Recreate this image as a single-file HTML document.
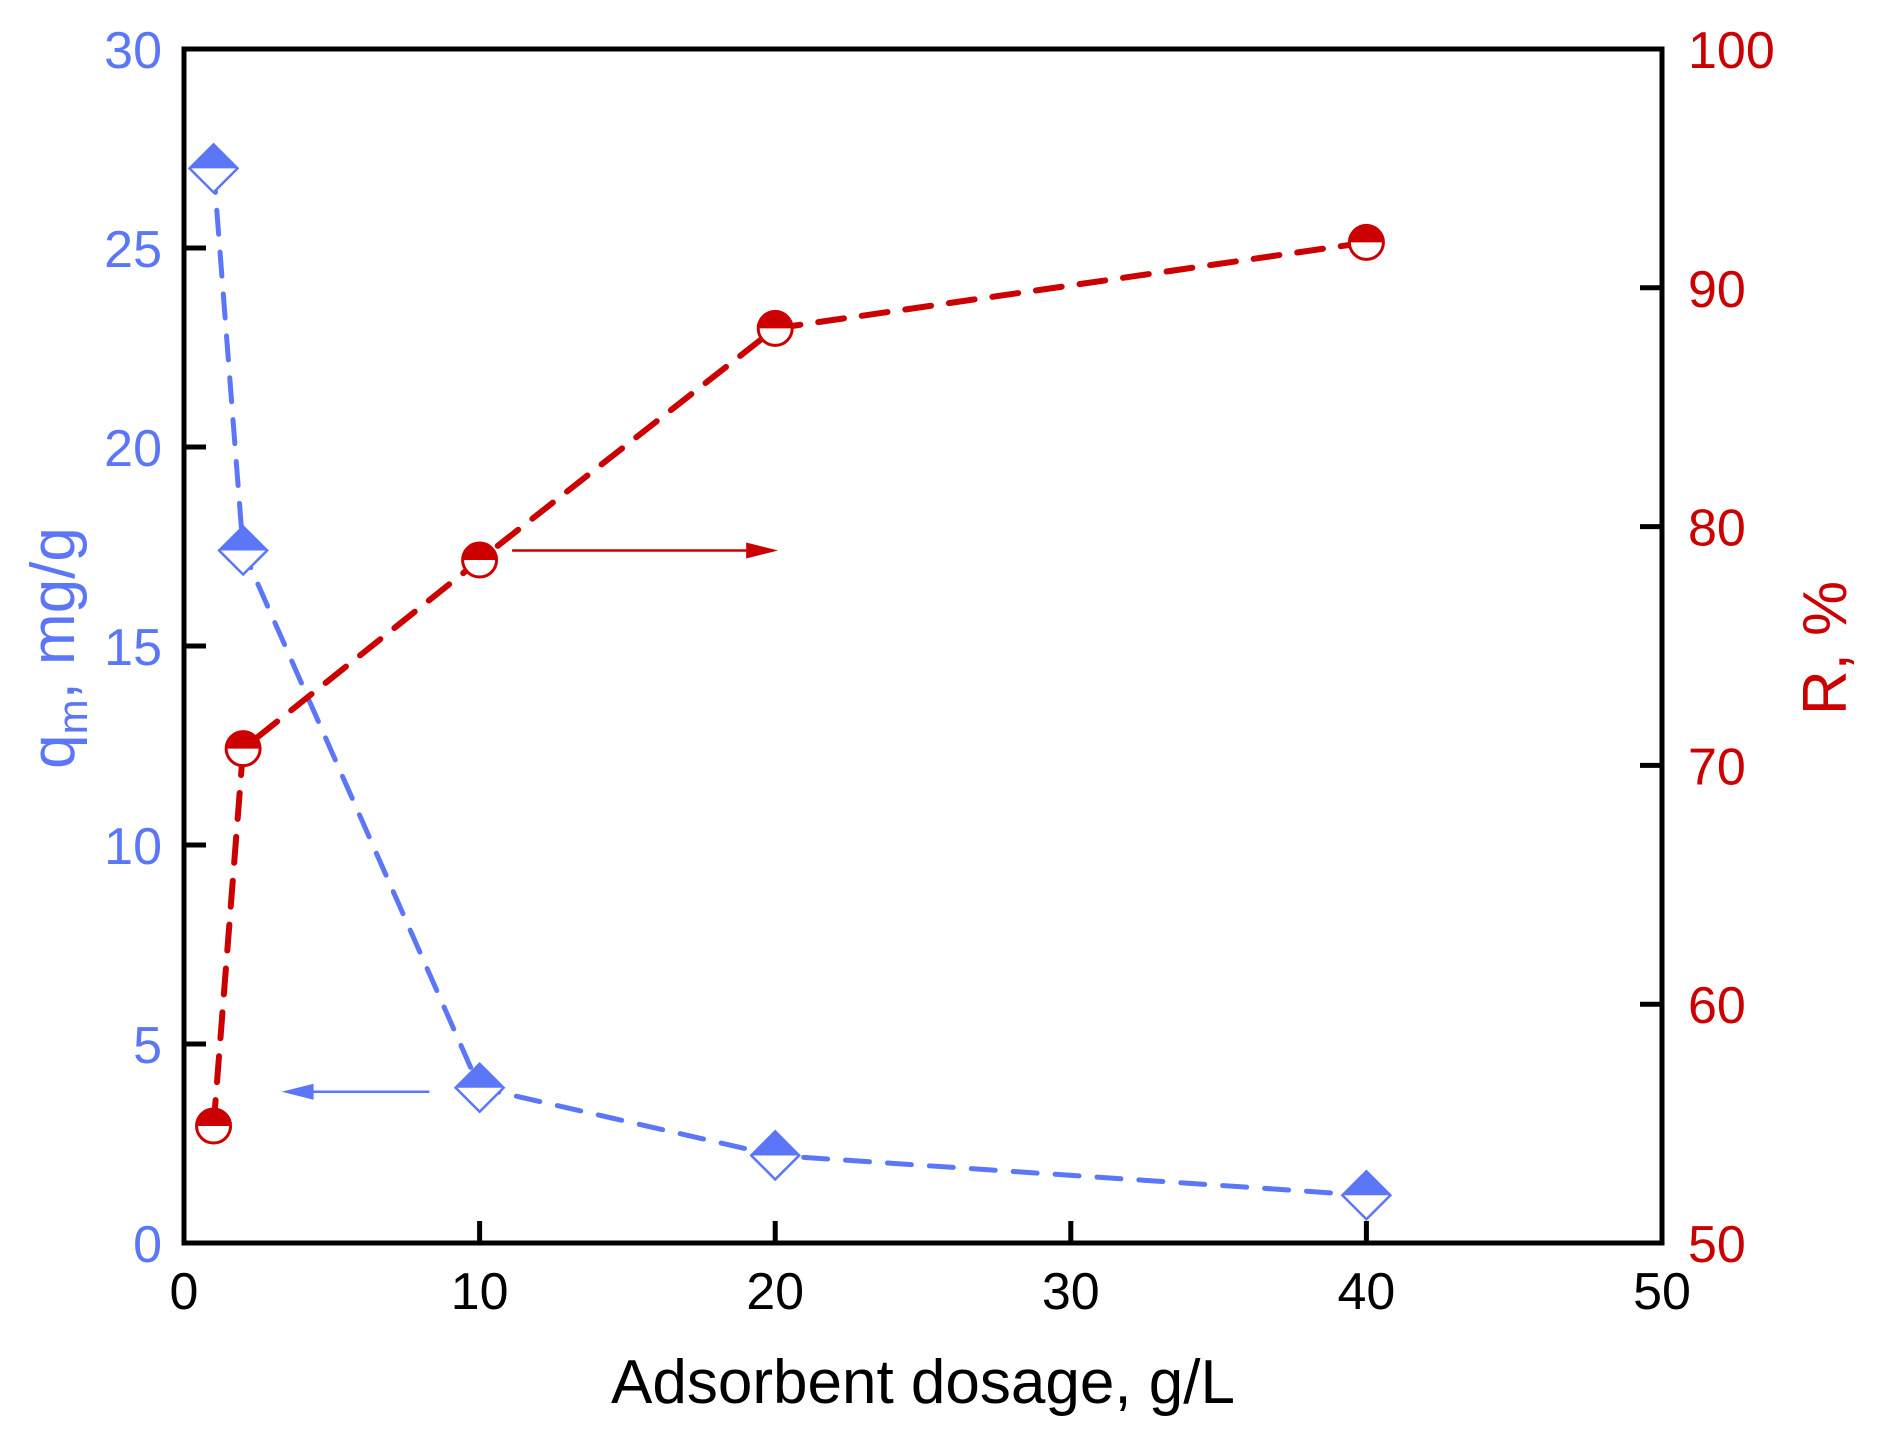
<!DOCTYPE html>
<html><head><meta charset="utf-8"><style>
body{margin:0;background:#fff}
svg{display:block;font-family:"Liberation Sans",Arial,sans-serif}
</style></head><body>
<svg id="chart" width="1877" height="1441" viewBox="0 0 1877 1441" xmlns="http://www.w3.org/2000/svg">
<g id="axes"></g>
<g id="series"></g>
<text x="923" y="1403" font-size="62" text-anchor="middle" fill="#000">Adsorbent dosage, g/L</text>
<text transform="translate(74,648) rotate(-90)" font-size="62" text-anchor="middle" fill="#5b76f7">q<tspan font-size="42" dy="13">m</tspan><tspan dy="-13">, mg/g</tspan></text>
<text transform="translate(1846,648) rotate(-90)" font-size="62" text-anchor="middle" fill="#cc0000">R, %</text>
</svg>
<script>
const dosage=[1,2,10,20,40];
const qm=[27.0,17.4,3.9,2.2,1.2];
const removal=[54.9,70.7,78.6,88.3,91.9];
const xTicks=[0,10,20,30,40,50];
const leftTicks=[0,5,10,15,20,25,30];
const rightTicks=[50,60,70,80,90,100];
const X0=184,X1=1662,Y0=1243,Y1=49;
const xs=v=>X0+(v-0)/50*(X1-X0);
const yl=v=>Y0-(v/30)*(Y0-Y1);
const yr=v=>Y0-((v-50)/50)*(Y0-Y1);
const NS="http://www.w3.org/2000/svg";
function mk(tag,attrs,parent){const e=document.createElementNS(NS,tag);for(const k in attrs)e.setAttribute(k,attrs[k]);parent.appendChild(e);return e;}
const ax=document.getElementById('axes'),sr=document.getElementById('series');
const BLUE="#5b76f7",RED="#cc0000";
let f=mk('rect',{x:X0,y:Y1,width:X1-X0,height:Y0-Y1,fill:'none',stroke:'#000','stroke-width':5},ax);


xTicks.forEach(t=>{
 let l=mk('line',{x1:xs(t),x2:xs(t),y1:Y0,y2:Y0-22,stroke:'#000','stroke-width':5},ax);
 
 
 let tx=mk('text',{x:xs(t),y:Y0+66,'font-size':52,'text-anchor':'middle',fill:'#000'},ax);tx.textContent=t;
 
 
});
leftTicks.forEach(t=>{
 let l=mk('line',{x1:X0,x2:X0+22,y1:yl(t),y2:yl(t),stroke:'#000','stroke-width':5},ax);
 
 
 let tx=mk('text',{x:X0-22,y:yl(t)+19,'font-size':52,'text-anchor':'end',fill:BLUE},ax);tx.textContent=t;
 
 
});
rightTicks.forEach(t=>{
 let l=mk('line',{x1:X1,x2:X1-22,y1:yr(t),y2:yr(t),stroke:'#000','stroke-width':5},ax);
 
 
 let tx=mk('text',{x:X1+26,y:yr(t)+19,'font-size':52,'text-anchor':'start',fill:RED},ax);tx.textContent=t;
 
 
});
let bl=mk('polyline',{points:dosage.map((d,i)=>xs(d)+','+yl(qm[i])).join(' '),fill:'none',stroke:BLUE,'stroke-width':5,'stroke-dasharray':'24 18','stroke-linecap':'round'},sr);


let rl=mk('polyline',{points:dosage.map((d,i)=>xs(d)+','+yr(removal[i])).join(' '),fill:'none',stroke:RED,'stroke-width':6,'stroke-dasharray':'26 18','stroke-linecap':'round'},sr);


function arrow(x1,x2,y,c,name){
 const g=mk('g',{},sr);
 
 
 const dir=x2>x1?1:-1;
 mk('line',{x1:x1,x2:x2-dir*28,y1:y,y2:y,stroke:c,'stroke-width':2.5},g);
 mk('polygon',{points:`${x2},${y} ${x2-dir*32},${y-8} ${x2-dir*32},${y+8}`,fill:c},g);
}
arrow(xs(11.1),xs(20.1),yr(79.0),RED,'removal-axis-arrow');
arrow(xs(8.3),xs(3.3),yl(3.8),BLUE,'qm-axis-arrow');
dosage.forEach((d,i)=>{
 const cx=xs(d),cy=yl(qm[i]),s=24;
 const g=mk('g',{},sr);
 
 
 mk('polygon',{points:`${cx},${cy-s} ${cx+s},${cy} ${cx},${cy+s} ${cx-s},${cy}`,fill:'#fff',stroke:BLUE,'stroke-width':2.5},g);
 mk('polygon',{points:`${cx},${cy-s} ${cx+s},${cy} ${cx-s},${cy}`,fill:BLUE},g);
});
dosage.forEach((d,i)=>{
 const cx=xs(d),cy=yr(removal[i]),r=17;
 const g=mk('g',{},sr);
 
 
 mk('circle',{cx:cx,cy:cy,r:r,fill:'#fff',stroke:RED,'stroke-width':3},g);
 mk('path',{d:`M${cx-r},${cy} A${r},${r} 0 0 1 ${cx+r},${cy} Z`,fill:RED},g);
});
</script>
</body></html>
